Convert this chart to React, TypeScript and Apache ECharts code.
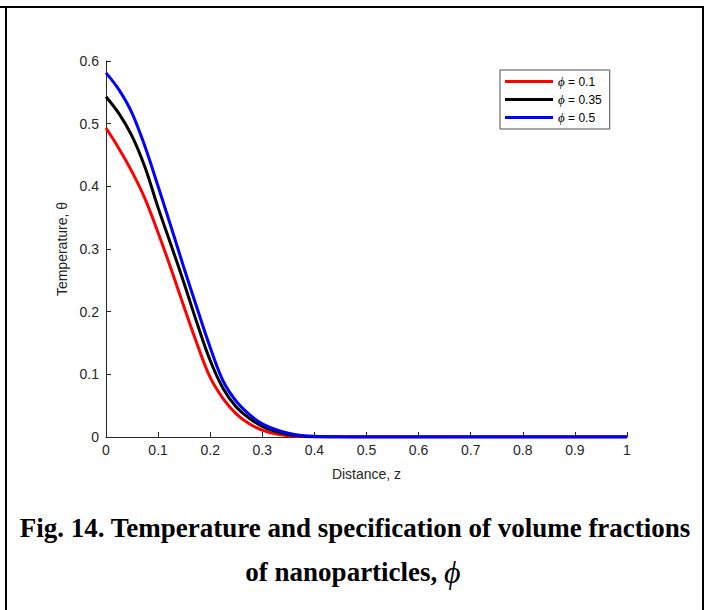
import React, { useEffect, useRef } from "react";
import * as echarts from "echarts";

const zValues = [0, 0.025, 0.05, 0.075, 0.1, 0.125, 0.15, 0.175, 0.2, 0.225, 0.25, 0.275, 0.3, 0.325, 0.35, 0.375, 0.4, 0.45, 0.5, 0.6, 0.7, 0.8, 0.9, 1.0];
const theta01 = [0.493, 0.460, 0.423, 0.380, 0.326, 0.268, 0.207, 0.148, 0.095, 0.061, 0.037, 0.021, 0.011, 0.005, 0.002, 0.0008, 0.0003, 0, 0, 0, 0, 0, 0, 0];
const theta035 = [0.543, 0.516, 0.480, 0.430, 0.366, 0.306, 0.245, 0.181, 0.122, 0.077, 0.048, 0.030, 0.017, 0.009, 0.004, 0.0015, 0.0005, 0.0001, 0, 0, 0, 0, 0, 0];
const theta05 = [0.581, 0.554, 0.517, 0.463, 0.400, 0.335, 0.269, 0.205, 0.143, 0.089, 0.057, 0.036, 0.021, 0.012, 0.006, 0.0025, 0.001, 0.0002, 0, 0, 0, 0, 0, 0];
const seriesNames = ["0.1", "0.35", "0.5"];
const seriesColors = ["#ff0000", "#000000", "#0000ff"];
const captionLine1 = "Fig. 14. Temperature and specification of volume fractions";
const captionLine2 = "of nanoparticles, ";

export default function App() {
  const ref = useRef<HTMLDivElement>(null);
  useEffect(() => {
    if (!ref.current) return;
    const chart = echarts.init(ref.current, null, { renderer: "svg" });
    const allData = [theta01, theta035, theta05];
    const axisColor = "#262626";
    chart.setOption({
      animation: false,
      backgroundColor: "#ffffff",
      grid: { left: 106, right: 77, top: 61, bottom: 173, containLabel: false },
      legend: {
        left: 500,
        top: 70,
        orient: "vertical",
        itemWidth: 48,
        itemHeight: 3,
        itemGap: 5,
        padding: [5, 8, 5, 5],
        borderColor: "#4d4d4d",
        borderWidth: 1,
        backgroundColor: "#fff",
        icon: "rect",
        data: seriesNames.map((n) => ({ name: n })),
        formatter: (n: string) => `{i|ϕ} = ${n}`,
        textStyle: {
          color: "#000",
          fontFamily: "Liberation Sans, Arial",
          fontSize: 12,
          rich: {
            i: { fontStyle: "italic", fontFamily: "Liberation Serif", fontSize: 13, color: "#000" },
          },
        },
      },
      xAxis: {
        type: "value",
        min: 0,
        max: 1,
        interval: 0.1,
        name: "Distance, z",
        nameLocation: "middle",
        nameGap: 30,
        nameTextStyle: { color: axisColor, fontSize: 14, fontFamily: "Liberation Sans, Arial" },
        axisLine: { show: true, lineStyle: { color: axisColor, width: 1 } },
        axisTick: { show: true, inside: true, length: 5, lineStyle: { color: axisColor } },
        axisLabel: { color: axisColor, fontSize: 14, fontFamily: "Liberation Sans, Arial", margin: 6 },
        splitLine: { show: false },
      },
      yAxis: {
        type: "value",
        min: 0,
        max: 0.6,
        interval: 0.1,
        name: "Temperature, θ",
        nameLocation: "middle",
        nameGap: 37,
        nameTextStyle: { color: axisColor, fontSize: 14, fontFamily: "Liberation Sans, Arial" },
        axisLine: { show: true, lineStyle: { color: axisColor, width: 1 } },
        axisTick: { show: true, inside: true, length: 5, lineStyle: { color: axisColor } },
        axisLabel: { color: axisColor, fontSize: 14, fontFamily: "Liberation Sans, Arial", margin: 7 },
        splitLine: { show: false },
      },
      series: seriesNames.map((n, i) => ({
        name: n,
        type: "line",
        data: zValues.map((z, k) => [z, allData[i][k]]),
        showSymbol: false,
        symbol: "none",
        smooth: 0.35,
        color: seriesColors[i],
        lineStyle: { width: 3, color: seriesColors[i] },
      })),
      graphic: [
        { type: "line", shape: { x1: 0, y1: 7, x2: 704, y2: 7 }, style: { stroke: "#000", lineWidth: 2 } },
        { type: "line", shape: { x1: 6, y1: 7, x2: 6, y2: 610 }, style: { stroke: "#000", lineWidth: 2 } },
        { type: "line", shape: { x1: 703, y1: 7, x2: 703, y2: 610 }, style: { stroke: "#000", lineWidth: 2 } },
        {
          type: "text",
          x: 355,
          y: 528,
          style: {
            text: captionLine1,
            fill: "#000",
            font: "bold 27px 'Liberation Serif', 'Times New Roman', serif",
            align: "center",
            verticalAlign: "middle",
          },
        },
        {
          type: "text",
          x: 353,
          y: 572,
          style: {
            text: `{a|${captionLine2}}{p|ϕ}`,
            align: "center",
            verticalAlign: "middle",
            rich: {
              a: { fontFamily: "Liberation Serif", fontWeight: "bold", fontSize: 27, fill: "#000", color: "#000" },
              p: { fontFamily: "Liberation Serif", fontStyle: "italic", fontSize: 32, fill: "#000", color: "#000" },
            },
          },
        },
      ],
    });
    return () => chart.dispose();
  }, []);
  return (
    <div style={{ position: "fixed", left: 0, top: 0, width: 704, height: 610, background: "#fff" }}>
      <div ref={ref} style={{ width: 704, height: 610 }} />
    </div>
  );
}
